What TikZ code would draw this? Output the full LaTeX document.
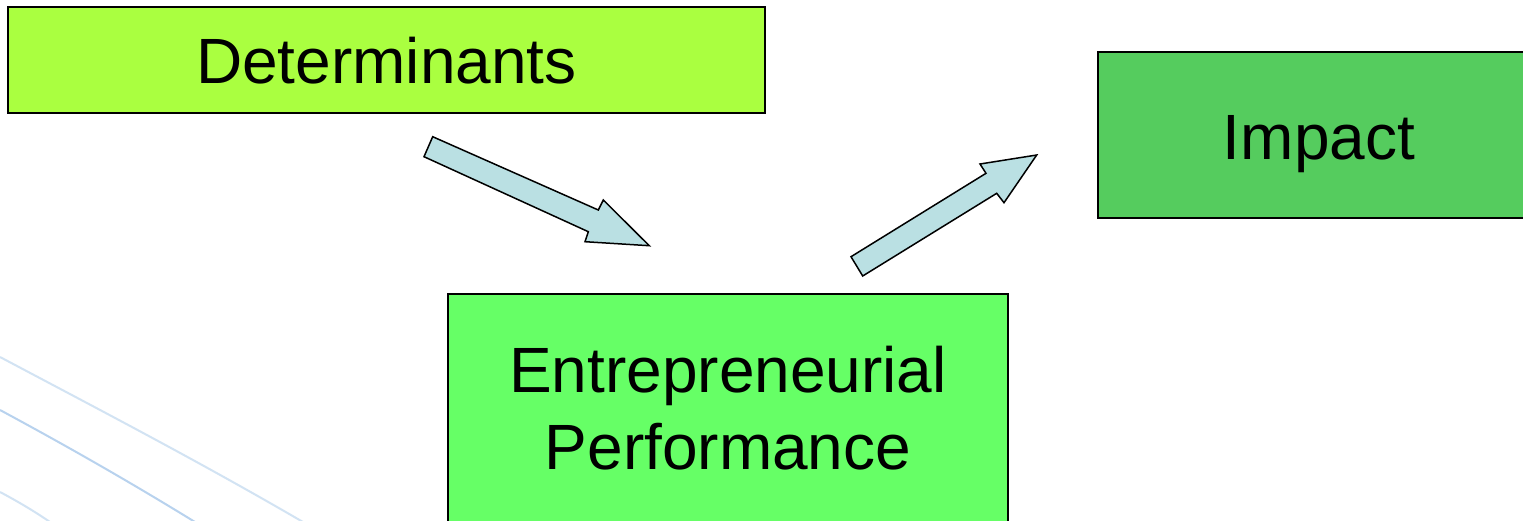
\documentclass[tikz,border=0pt]{standalone}
\usepackage{fontspec}
\setmainfont{Liberation Sans}
\definecolor{detfill}{HTML}{AAFF40}
\definecolor{impfill}{HTML}{55CC5E}
\definecolor{entfill}{HTML}{66FF66}
\definecolor{arrfill}{HTML}{BAE0E3}
\definecolor{deco1}{HTML}{D2E3F3}
\definecolor{deco2}{HTML}{B8D2EE}
\begin{document}
\begin{tikzpicture}[x=1pt,y=-1pt,
  box/.style={draw=black, line width=1.5pt, inner sep=0pt, align=center,
    font=\fontsize{64}{76.7}\selectfont},
  blockarrow/.style={draw=black, line width=1.5pt, fill=arrfill, line join=miter},
  decoline/.style={line width=2pt}]
\clip (0,0) rectangle (1523,520);
\fill[white] (0,0) rectangle (1523,520);
% decorative curves
\draw[decoline, deco1] (0,357) .. controls (100,410) and (200,462) .. (303,522);
\draw[decoline, deco2] (0,410) .. controls (65,445) and (130,482) .. (195,522);
\draw[decoline, deco1] (0,492) .. controls (17,501) and (34,511) .. (50,522);
% boxes
\node[box, fill=detfill, minimum width=757pt, minimum height=106pt,
  text height=46.6pt, text depth=0pt] (det) at (386.5,60) {Determinants};
\node[box, fill=impfill, minimum width=442pt, minimum height=166pt,
  text height=48pt, text depth=0pt] (imp) at (1319,135) {Impact};
\node[box, fill=entfill, minimum width=560pt, minimum height=228pt] (ent) at (728,408) {Entrepreneurial\\Performance};
% block arrows
\coordinate (a1) at (432.7,136.7);
\coordinate (a2) at (598.3,210);
\coordinate (a3) at (603.3,200);
\coordinate (a4) at (649.3,245.7);
\coordinate (a5) at (585,241.7);
\coordinate (a6) at (588.3,231.7);
\coordinate (a7) at (424,156.7);
\draw[blockarrow] (a1) -- (a2) -- (a3) -- (a4) -- (a5) -- (a6) -- (a7) -- cycle;
\coordinate (b1) at (851,256.7);
\coordinate (b2) at (986,173.3);
\coordinate (b3) at (980,164);
\coordinate (b4) at (1036.7,155);
\coordinate (b5) at (1004,202.7);
\coordinate (b6) at (996.7,193.3);
\coordinate (b7) at (862.7,276);
\draw[blockarrow] (b1) -- (b2) -- (b3) -- (b4) -- (b5) -- (b6) -- (b7) -- cycle;
\end{tikzpicture}
\end{document}
